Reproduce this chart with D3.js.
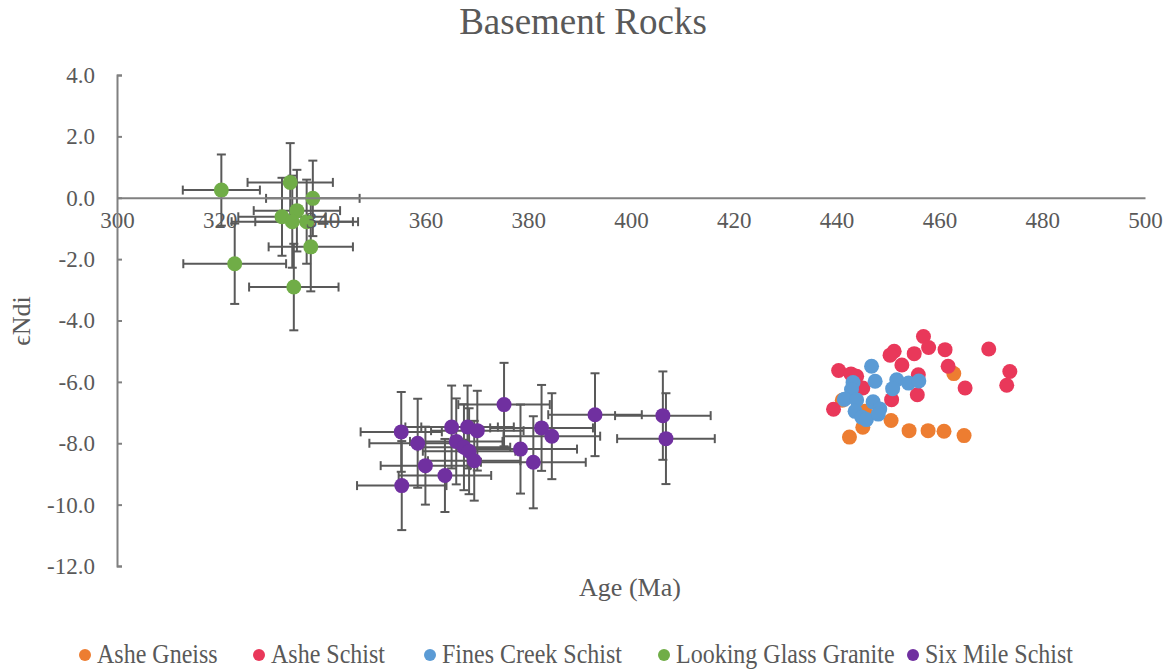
<!DOCTYPE html>
<html>
<head>
<meta charset="utf-8">
<script src="https://cdn.jsdelivr.net/npm/d3@7"></script>
<style>
  html, body { margin: 0; padding: 0; background: #fff; }
  svg { display: block; }
  text { font-family: "Liberation Serif", "Times New Roman", serif; fill: #595959; }
</style>
</head>
<body>
<svg id="chart" width="1172" height="670"></svg>
<script>
// ---- Data: age (Ma) vs initial epsilon Nd ----
const seriesNames = ["Ashe Gneiss", "Ashe Schist", "Fines Creek Schist", "Looking Glass Granite", "Six Mile Schist"];
const seriesColors = ["#ED7D31", "#E9385A", "#5B9BD5", "#70AD47", "#7030A0"];

const asheGneissAge = [462.8, 442.5, 445.1, 450.6, 454.1, 457.8, 460.9, 464.8, 441.1, 445.5];
const asheGneissEnd = [-5.73, -7.80, -7.48, -7.26, -7.59, -7.59, -7.61, -7.75, -6.60, -6.96];

const asheSchistAge = [456.9, 457.9, 461.1, 469.6, 451.2, 450.4, 455.1, 452.7, 473.7, 461.7,
                       440.4, 442.8, 443.9, 455.9, 465.0, 473.1, 445.1, 455.7, 450.7, 439.4];
const asheSchistEnd = [-4.52, -4.88, -4.95, -4.93, -5.00, -5.13, -5.08, -5.45, -5.66, -5.49,
                       -5.63, -5.74, -5.82, -5.77, -6.20, -6.11, -6.20, -6.42, -6.58, -6.89];

const finesCreekAge = [446.8, 447.5, 443.2, 442.9, 451.7, 454.0, 456.0, 450.9,
                       441.5, 443.9, 447.1, 448.4, 443.6, 444.9, 445.8, 448.1];
const finesCreekEnd = [-5.49, -5.98, -6.02, -6.25, -5.93, -6.04, -5.97, -6.22,
                       -6.57, -6.59, -6.65, -6.88, -6.96, -7.15, -7.23, -7.05];

const lookingGlassAge    = [320.3, 333.7, 338.1, 332.1, 335.0, 334.1, 336.9, 337.7, 322.9, 334.4];
const lookingGlassEnd    = [0.25, 0.50, -0.02, -0.62, -0.42, -0.78, -0.78, -1.60, -2.15, -2.91];
const lookingGlassAgeErr = [7.5, 8.3, 9.1, 8.5, 8.4, 11.8, 10.0, 8.2, 10.0, 8.7];
const lookingGlassEndErr = [1.16, 1.28, 1.23, 1.27, 1.33, 1.5, 1.37, 1.45, 1.31, 1.41];

const sixMileAge    = [355.3, 358.5, 360.0, 355.4, 363.8, 365.1, 366.0, 368.2, 370.1, 367.5,
                       368.5, 369.5, 375.3, 382.6, 384.6, 378.5, 381.0, 393.0, 406.2, 406.8];
const sixMileEnd    = [-7.63, -8.00, -8.73, -9.38, -9.05, -7.47, -7.94, -7.47, -7.59, -8.13,
                       -8.26, -8.57, -6.74, -7.50, -7.77, -8.19, -8.62, -7.07, -7.10, -7.85];
const sixMileAgeErr = [7.9, 9.4, 8.7, 8.7, 9.0, 9.0, 9.0, 9.0, 9.0, 9.0,
                       9.0, 9.0, 8.9, 10.0, 9.4, 11.0, 10.2, 9.1, 9.3, 9.5];
const sixMileEndErr = [1.30, 1.45, 1.27, 1.45, 1.19, 1.35, 1.40, 1.35, 1.30, 1.40,
                       1.40, 1.30, 1.36, 1.40, 1.40, 1.45, 1.50, 1.35, 1.44, 1.48];

const xTicks = [300, 320, 340, 360, 380, 400, 420, 440, 460, 480, 500];
const yTicks = [4, 2, 0, -2, -4, -6, -8, -10, -12];

// ---- Assemble series records ----
function rows(ages, ends, ageErr, endErr) {
  return ages.map((a, i) => ({
    x: a, y: ends[i],
    ex: ageErr ? ageErr[i] : null,
    ey: endErr ? endErr[i] : null
  }));
}
const series = [
  rows(asheGneissAge, asheGneissEnd),
  rows(asheSchistAge, asheSchistEnd),
  rows(finesCreekAge, finesCreekEnd),
  rows(lookingGlassAge, lookingGlassEnd, lookingGlassAgeErr, lookingGlassEndErr),
  rows(sixMileAge, sixMileEnd, sixMileAgeErr, sixMileEndErr)
];

// ---- Layout ----
const svg = d3.select("#chart");
const x = d3.scaleLinear().domain([300, 500]).range([117, 1145]);
const y = d3.scaleLinear().domain([-12, 4]).range([566, 75]);
const axisColor = "#808080";
const barColor = "#595959";
const markerR = 7.5;
const cap = 4.5;
const legendDotX = [85, 259, 430, 664, 913];

// Title
svg.append("text")
  .attr("x", 583).attr("y", 34)
  .attr("text-anchor", "middle")
  .style("font-size", "37px")
  .text("Basement Rocks");

// Data layer: error bars under markers, one group per series
const plot = svg.append("g");
series.forEach((data, si) => {
  const g = plot.append("g");
  const withErr = data.filter(d => d.ex != null);
  const eb = g.append("g").attr("stroke", barColor).attr("stroke-width", 2).attr("fill", "none");
  withErr.forEach(d => {
    const cx = x(d.x), cy = y(d.y);
    const xl = x(d.x - d.ex), xr = x(d.x + d.ex);
    const yt = y(d.y + d.ey), yb = y(d.y - d.ey);
    eb.append("line").attr("x1", xl).attr("x2", xr).attr("y1", cy).attr("y2", cy);
    eb.append("line").attr("x1", xl).attr("x2", xl).attr("y1", cy - cap).attr("y2", cy + cap);
    eb.append("line").attr("x1", xr).attr("x2", xr).attr("y1", cy - cap).attr("y2", cy + cap);
    eb.append("line").attr("x1", cx).attr("x2", cx).attr("y1", yt).attr("y2", yb);
    eb.append("line").attr("x1", cx - cap).attr("x2", cx + cap).attr("y1", yt).attr("y2", yt);
    eb.append("line").attr("x1", cx - cap).attr("x2", cx + cap).attr("y1", yb).attr("y2", yb);
  });
  g.selectAll("circle").data(data).join("circle")
    .attr("cx", d => x(d.x)).attr("cy", d => y(d.y))
    .attr("r", markerR)
    .attr("fill", seriesColors[si]);
});

// Axes (value axes crossing at age 300 and eNd 0)
const xAxis = d3.axisBottom(x).tickValues(xTicks).tickSize(0).tickPadding(14).tickFormat(d => String(d));
const gx = svg.append("g").attr("transform", `translate(0,${y(0)})`).call(xAxis);
gx.attr("font-family", null).attr("font-size", null);
gx.select(".domain").attr("stroke", axisColor).attr("stroke-width", 2);
gx.selectAll("text").style("font-size", "23px").attr("fill", "#595959");

const yAxis = d3.axisLeft(y).tickValues(yTicks).tickSize(-5).tickPadding(22).tickFormat(d => d.toFixed(1));
const gy = svg.append("g").attr("transform", `translate(${x(300)},0)`).call(yAxis);
gy.attr("font-family", null).attr("font-size", null);
gy.select(".domain").attr("stroke", axisColor).attr("stroke-width", 2);
gy.selectAll(".tick line").attr("stroke", axisColor).attr("stroke-width", 2);
gy.selectAll("text").style("font-size", "23px").attr("fill", "#595959");

// Axis titles
svg.append("text")
  .attr("x", 630).attr("y", 596)
  .attr("text-anchor", "middle")
  .style("font-size", "26px")
  .text("Age (Ma)");
svg.append("text")
  .attr("transform", "translate(30,321) rotate(-90)")
  .attr("text-anchor", "middle")
  .style("font-size", "26px")
  .text("ϵNdi");

// Legend: glyphs drawn slightly tall and narrow
const legend = svg.append("g").attr("transform", "translate(0,655)");
seriesNames.forEach((name, i) => {
  const lx = legendDotX[i];
  legend.append("circle").attr("cx", lx).attr("cy", 0).attr("r", 6).attr("fill", seriesColors[i]);
  legend.append("text")
    .attr("transform", `translate(${lx + 12},8) scale(1,1.15)`)
    .style("font-size", "24px")
    .text(name);
});
</script>
</body>
</html>
